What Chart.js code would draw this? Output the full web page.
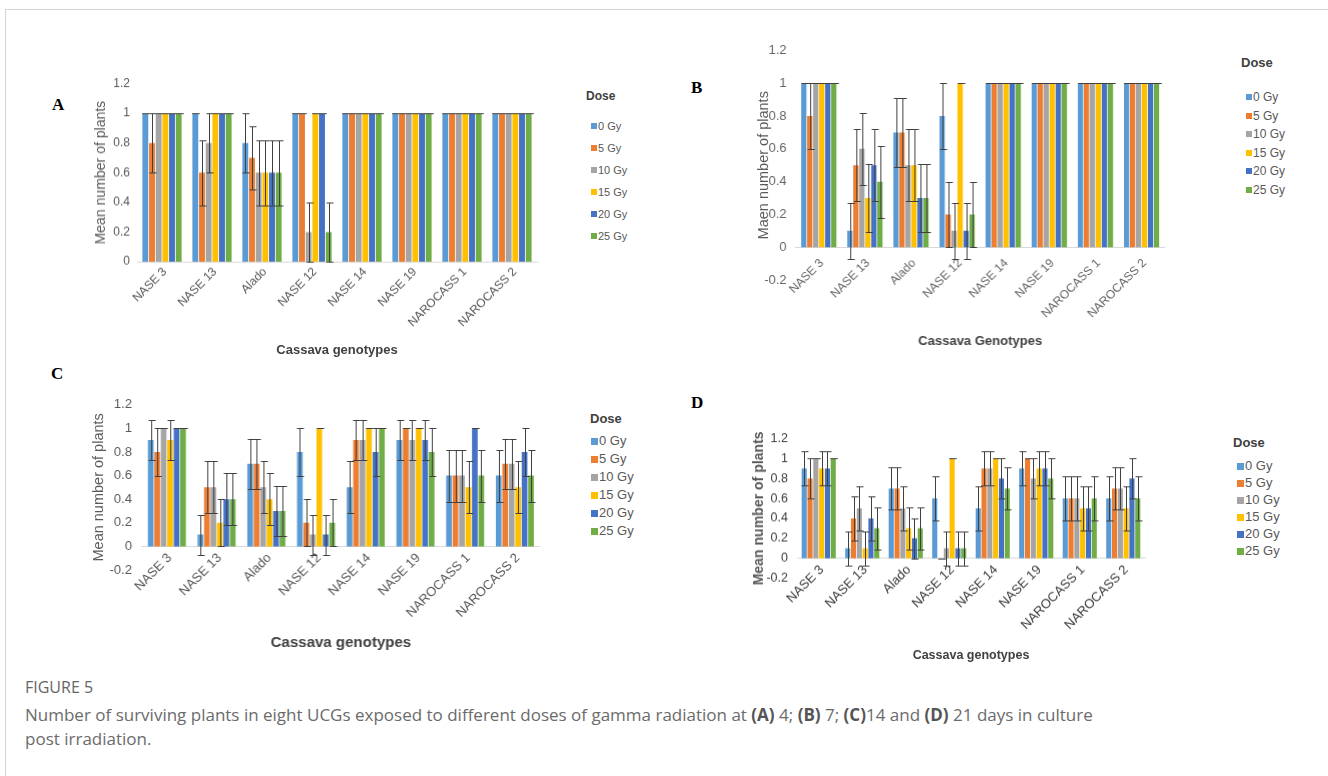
<!DOCTYPE html>
<html>
<head>
<meta charset="utf-8">
<script src="https://cdn.jsdelivr.net/npm/chart.js@4.4.1/dist/chart.umd.min.js"></script>
<style>
  body { margin: 0; background: #fff; width: 1328px; height: 776px; position: relative; overflow: hidden; font-family: "Liberation Sans", Arial, sans-serif; }
  .frame { position: absolute; left: 5px; top: 9px; right: -2px; bottom: -2px; border-top: 1px solid #d4d4d4; border-left: 1px solid #d4d4d4; }
  .panel { position: absolute; }
  .letter { position: absolute; font-family: "Liberation Serif", serif; font-weight: bold; font-size: 17px; color: #000; line-height: 20px; }
  .leg { position: absolute; white-space: nowrap; color: #595959; }
  .fig { position: absolute; left: 25px; top: 677px; font-family: "Open Sans", sans-serif; font-size: 16px; color: #666; line-height: 20px; }
  .cap { position: absolute; left: 25px; top: 703px; font-family: "Open Sans", sans-serif; font-size: 17px; color: #6b6b6b; line-height: 24px; white-space: nowrap; }
  .cap b { color: #555; }
</style>
</head>
<body>
<div class="frame"></div>
<div class="letter" style="left:52px;top:95px">A</div>
<div class="letter" style="left:691px;top:78px">B</div>
<div class="letter" style="left:51px;top:364px">C</div>
<div class="letter" style="left:691px;top:393px">D</div>
<div class="fig">FIGURE 5</div>
<div class="cap">Number of surviving plants in eight UCGs exposed to different doses of gamma radiation at <b>(A)</b> 4; <b>(B)</b> 7; <b>(C)</b>14 and <b>(D)</b> 21 days in culture<br>post irradiation.</div>

<script>
const genotypes = ['NASE 3', 'NASE 13', 'Alado', 'NASE 12', 'NASE 14', 'NASE 19', 'NAROCASS 1', 'NAROCASS 2'];
const doses = ['0 Gy', '5 Gy', '10 Gy', '15 Gy', '20 Gy', '25 Gy'];
const doseColors = ['#5B9BD5', '#ED7D31', '#A5A5A5', '#FFC000', '#4472C4', '#70AD47'];

// (A) 4 days - one row per dose, values per genotype
const day4Mean = [
  [1, 1, 0.8, 1, 1, 1, 1, 1],
  [0.8, 0.6, 0.7, 1, 1, 1, 1, 1],
  [1, 0.8, 0.6, 0.2, 1, 1, 1, 1],
  [1, 1, 0.6, 1, 1, 1, 1, 1],
  [1, 1, 0.6, 1, 1, 1, 1, 1],
  [1, 1, 0.6, 0.2, 1, 1, 1, 1]
];
const day4Err = [
  [0, 0, 0.2, 0, 0, 0, 0, 0],
  [0.2, 0.22, 0.21, 0, 0, 0, 0, 0],
  [0, 0.2, 0.22, 0.2, 0, 0, 0, 0],
  [0, 0, 0.22, 0, 0, 0, 0, 0],
  [0, 0, 0.22, 0, 0, 0, 0, 0],
  [0, 0, 0.22, 0.2, 0, 0, 0, 0]
];

// (B) 7 days
const day7Mean = [
  [1, 0.1, 0.7, 0.8, 1, 1, 1, 1],
  [0.8, 0.5, 0.7, 0.2, 1, 1, 1, 1],
  [1, 0.6, 0.5, 0.1, 1, 1, 1, 1],
  [1, 0.3, 0.5, 1, 1, 1, 1, 1],
  [1, 0.5, 0.3, 0.1, 1, 1, 1, 1],
  [1, 0.4, 0.3, 0.2, 1, 1, 1, 1]
];
const day7Err = [
  [0, 0.17, 0.21, 0.2, 0, 0, 0, 0],
  [0.2, 0.22, 0.21, 0.2, 0, 0, 0, 0],
  [0, 0.22, 0.22, 0.17, 0, 0, 0, 0],
  [0, 0.21, 0.22, 0, 0, 0, 0, 0],
  [0, 0.22, 0.21, 0.17, 0, 0, 0, 0],
  [0, 0.22, 0.21, 0.2, 0, 0, 0, 0]
];

// (C) 14 days
const day14Mean = [
  [0.9, 0.1, 0.7, 0.8, 0.5, 0.9, 0.6, 0.6],
  [0.8, 0.5, 0.7, 0.2, 0.9, 1, 0.6, 0.7],
  [1, 0.5, 0.5, 0.1, 0.9, 0.9, 0.6, 0.7],
  [0.9, 0.2, 0.4, 1, 1, 1, 0.5, 0.5],
  [1, 0.4, 0.3, 0.1, 0.8, 0.9, 1, 0.8],
  [1, 0.4, 0.3, 0.2, 1, 0.8, 0.6, 0.6]
];
const day14Err = [
  [0.17, 0.17, 0.21, 0.2, 0.22, 0.17, 0.22, 0.22],
  [0.2, 0.22, 0.21, 0.2, 0.17, 0, 0.22, 0.21],
  [0, 0.22, 0.22, 0.17, 0.17, 0.17, 0.22, 0.21],
  [0.17, 0.2, 0.22, 0, 0, 0, 0.22, 0.22],
  [0, 0.22, 0.21, 0.17, 0.2, 0.17, 0, 0.2],
  [0, 0.22, 0.21, 0.2, 0, 0.2, 0.22, 0.22]
];

// (D) 21 days
const day21Mean = [
  [0.9, 0.1, 0.7, 0.6, 0.5, 0.9, 0.6, 0.6],
  [0.8, 0.4, 0.7, 0, 0.9, 1, 0.6, 0.7],
  [1, 0.5, 0.5, 0.1, 0.9, 0.8, 0.6, 0.7],
  [0.9, 0.1, 0.3, 1, 1, 0.9, 0.5, 0.5],
  [0.9, 0.4, 0.2, 0.1, 0.8, 0.9, 0.5, 0.8],
  [1, 0.3, 0.3, 0.1, 0.7, 0.8, 0.6, 0.6]
];
const day21Err = [
  [0.17, 0.17, 0.21, 0.22, 0.22, 0.17, 0.22, 0.22],
  [0.2, 0.22, 0.21, 0, 0.17, 0, 0.22, 0.21],
  [0, 0.22, 0.22, 0.17, 0.17, 0.2, 0.22, 0.21],
  [0.17, 0.17, 0.21, 0, 0, 0.17, 0.22, 0.22],
  [0.17, 0.22, 0.2, 0.17, 0.2, 0.17, 0.22, 0.2],
  [0, 0.21, 0.21, 0.17, 0.21, 0.2, 0.22, 0.22]
];

// draws the error bars of each dataset through the y scale
const errorBars = {
  id: 'errorBars',
  afterDatasetsDraw(chart) {
    const ctx = chart.ctx;
    const y = chart.scales.y;
    ctx.save();
    ctx.strokeStyle = '#404040';
    ctx.lineWidth = 1;
    chart.data.datasets.forEach((ds, i) => {
      const meta = chart.getDatasetMeta(i);
      meta.data.forEach((bar, j) => {
        const v = ds.data[j], e = ds.errors[j];
        const x = Math.round(bar.x) + 0.5;
        const top = Math.round(y.getPixelForValue(v + e)) + 0.5;
        const bot = Math.round(y.getPixelForValue(v - e)) + 0.5;
        const half = 3;
        ctx.beginPath();
        ctx.moveTo(x, top); ctx.lineTo(x, bot);
        ctx.moveTo(x - half, top); ctx.lineTo(x + half + 1, top);
        ctx.moveTo(x - half, bot); ctx.lineTo(x + half + 1, bot);
        ctx.stroke();
      });
    });
    ctx.restore();
  }
};

// plot = pixel box of the plotting area (1.2 at top, y minimum at bottom)
const panels = [
  { mean: day4Mean, err: day4Err, yMin: 0,
    yTitle: 'Mean number of plants', yBold: false, yTitleSize: 14, yTitleX: 101,
    xTitle: 'Cassava genotypes', xTitleSize: 13, xTitleY: 349,
    tickSize: 12, xTickSize: 12, tickColor: '#595959', xTickPad: 3, yTickPad: 7, cat: 0.8,
    canvas: { left: 86, top: 60 }, plot: { l: 137, r: 537, t: 83.5, b: 261 },
    legend: { titleLeft: 586, titleY: 96, titleSize: 12, boxLeft: 591, textLeft: 598, firstY: 126, step: 22, size: 11, box: 6 } },
  { mean: day7Mean, err: day7Err, yMin: -0.2,
    yTitle: 'Maen number of plants', yBold: false, yTitleSize: 14.5, yTitleX: 764,
    xTitle: 'Cassava Genotypes', xTitleSize: 13, xTitleY: 341.5,
    tickSize: 13, xTickSize: 12, tickColor: '#666666', xTickPad: 9, yTickPad: 9, cat: 0.78,
    canvas: { left: 748, top: 30 }, plot: { l: 795.6, r: 1163.6, t: 50.5, b: 280 },
    legend: { titleLeft: 1241, titleY: 63, titleSize: 13, boxLeft: 1246, textLeft: 1253, firstY: 97, step: 18.6, size: 12, box: 6 } },
  { mean: day14Mean, err: day14Err, yMin: -0.2,
    yTitle: 'Mean number of plants', yBold: false, yTitleSize: 14.5, yTitleX: 99,
    xTitle: 'Cassava genotypes', xTitleSize: 15, xTitleY: 643,
    tickSize: 13, xTickSize: 13, tickColor: '#595959', xTickPad: 4, yTickPad: 10, cat: 0.78,
    canvas: { left: 82, top: 385 }, plot: { l: 141.9, r: 538.7, t: 404.7, b: 570 },
    legend: { titleLeft: 590, titleY: 419, titleSize: 13, boxLeft: 591, textLeft: 599, firstY: 441, step: 18, size: 13, box: 7 } },
  { mean: day21Mean, err: day21Err, yMin: -0.2,
    yTitle: 'Mean number of plants', yBold: true, yTitleSize: 14, yTitleX: 759,
    xTitle: 'Cassava genotypes', xTitleSize: 12.5, xTitleY: 655,
    tickSize: 12.5, xTickSize: 13, tickColor: '#404040', xTickPad: 4, yTickPad: 9, cat: 0.8,
    canvas: { left: 745, top: 420 }, plot: { l: 797, r: 1145, t: 438.5, b: 577.5 },
    legend: { titleLeft: 1233, titleY: 443, titleSize: 13, boxLeft: 1237, textLeft: 1245, firstY: 466, step: 17, size: 13, box: 7 } }
];

function addLegend(lg) {
  const t = document.createElement('div');
  t.className = 'leg';
  t.textContent = 'Dose';
  Object.assign(t.style, { left: lg.titleLeft + 'px', top: (lg.titleY - 10) + 'px', lineHeight: '20px',
    fontSize: lg.titleSize + 'px', fontWeight: 'bold', color: '#404040' });
  document.body.appendChild(t);
  doses.forEach((d, i) => {
    const cy = lg.firstY + i * lg.step;
    const b = document.createElement('div');
    Object.assign(b.style, { position: 'absolute', left: lg.boxLeft + 'px', top: (cy - lg.box / 2) + 'px',
      width: lg.box + 'px', height: lg.box + 'px', background: doseColors[i] });
    document.body.appendChild(b);
    const s = document.createElement('div');
    s.className = 'leg';
    s.textContent = d;
    Object.assign(s.style, { left: lg.textLeft + 'px', top: (cy - 10) + 'px', lineHeight: '20px', fontSize: lg.size + 'px' });
    document.body.appendChild(s);
  });
}

panels.forEach(p => {
  const lhY = p.yTitleSize * 1.2, lhX = p.xTitleSize * 1.2;
  const zeroPx = p.plot.b - (-p.yMin) / (1.2 - p.yMin) * (p.plot.b - p.plot.t);
  const cw = p.plot.r + 7 - p.canvas.left;
  const ch = p.xTitleY + lhX / 2 + 4 - p.canvas.top;
  const pad = {
    left: p.yTitleX - lhY / 2 - p.canvas.left,
    right: 7,
    top: p.plot.t - p.canvas.top,
    bottom: p.canvas.top + ch - p.plot.b
  };
  const yW = p.plot.l - (p.yTitleX - lhY / 2);
  const xH = p.xTitleY + lhX / 2 - zeroPx;

  const wrap = document.createElement('div');
  wrap.className = 'panel';
  Object.assign(wrap.style, { left: p.canvas.left + 'px', top: p.canvas.top + 'px', width: cw + 'px', height: ch + 'px' });
  const cv = document.createElement('canvas');
  wrap.appendChild(cv);
  document.body.appendChild(wrap);

  new Chart(cv, {
    type: 'bar',
    data: {
      labels: genotypes,
      datasets: doses.map((d, i) => ({
        label: d,
        data: p.mean[i],
        errors: p.err[i],
        backgroundColor: doseColors[i],
        borderWidth: 0,
        barPercentage: 0.88,
        categoryPercentage: p.cat
      }))
    },
    options: {
      responsive: true,
      maintainAspectRatio: false,
      animation: false,
      layout: { padding: pad },
      plugins: { legend: { display: false }, tooltip: { enabled: false } },
      scales: {
        x: {
          position: { y: 0 },
          grid: { display: false, drawTicks: false },
          border: { display: true, color: '#d9d9d9' },
          afterFit: s => { s.height = xH; },
          ticks: { color: p.tickColor, font: { size: p.xTickSize }, minRotation: 45, maxRotation: 45,
            padding: p.xTickPad, labelOffset: 3, autoSkip: false },
          title: { display: true, text: p.xTitle, color: '#404040', padding: 0, font: { size: p.xTitleSize, weight: 'bold' } }
        },
        y: {
          min: p.yMin,
          max: 1.2,
          ticks: { stepSize: 0.2, color: p.tickColor, font: { size: p.tickSize }, padding: p.yTickPad,
            callback: v => String(+v.toFixed(1)) },
          grid: { display: false, drawTicks: false },
          border: { display: false },
          afterFit: s => { s.width = yW; },
          title: { display: true, text: p.yTitle, color: '#595959', padding: 0,
            font: { size: p.yTitleSize, weight: p.yBold ? 'bold' : 'normal' } }
        }
      }
    },
    plugins: [errorBars]
  });
  addLegend(p.legend);
});
</script>
</body>
</html>
